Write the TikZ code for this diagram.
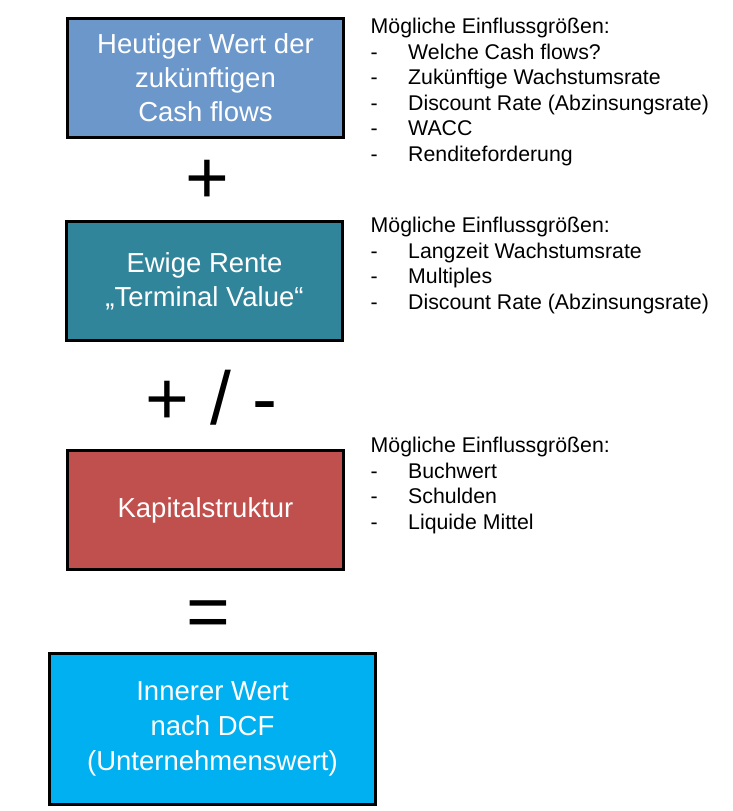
\documentclass[tikz,border=0pt]{standalone}
\usepackage{fontspec}
\setmainfont{Liberation Sans}

\definecolor{cfblue}{RGB}{108,151,203}
\definecolor{tvteal}{RGB}{49,133,155}
\definecolor{ksred}{RGB}{192,80,77}
\definecolor{iwcyan}{RGB}{0,176,240}

\newcommand{\itm}[1]{\makebox[37.5pt][l]{-}#1}

\begin{document}
\begin{tikzpicture}[x=1pt,y=-1pt,
	box/.style={draw=black, line width=3pt, text=white, align=center, inner sep=0pt,
		minimum width=276pt, minimum height=119pt, font=\fontsize{27.5}{34}\selectfont},
	op/.style={anchor=base, inner sep=0pt, font=\fontsize{75}{75}\selectfont},
	info/.style={anchor=base west, align=left, inner sep=0pt, font=\fontsize{21.3}{25.5}\selectfont}]
	
	\useasboundingbox (0,0) rectangle (733,811);
	
	% Bausteine
	\node [box, fill=cfblue] (cf) at (205.5,78) {Heutiger Wert der\\zukünftigen\\Cash flows};
	
	\node [box, fill=tvteal] (tv) at (204.5,281) {Ewige Rente\\„Terminal Value“};
	
	\node [box, fill=ksred] (ks) at (205.5,510) {Kapitalstruktur};
	
	\node [box, fill=iwcyan, minimum width=326pt, minimum height=151pt,
		font=\fontsize{27.5}{35}\selectfont] (iw) at (212.5,729) {Innerer Wert\\nach DCF\\(Unternehmenswert)};
	
	% Rechenzeichen
	\node [op] (op1) at (207,203) {+};
	\node [op] (op2) at (211.5,424) {+ / -};
	\node [op] (op3) at (208,637) {=};
	
	% Einflussgrößen (Anker: Grundlinie der letzten Zeile)
	\node [info] (in1) at (370.5,161) {Mögliche Einflussgrößen:\\
		\itm{Welche Cash flows?}\\
		\itm{Zukünftige Wachstumsrate}\\
		\itm{Discount Rate (Abzinsungsrate)}\\
		\itm{WACC}\\
		\itm{Renditeforderung}};
	
	\node [info] (in2) at (370.5,309) {Mögliche Einflussgrößen:\\
		\itm{Langzeit Wachstumsrate}\\
		\itm{Multiples}\\
		\itm{Discount Rate (Abzinsungsrate)}};
	
	\node [info] (in3) at (370.5,529) {Mögliche Einflussgrößen:\\
		\itm{Buchwert}\\
		\itm{Schulden}\\
		\itm{Liquide Mittel}};
	
\end{tikzpicture}
\end{document}
